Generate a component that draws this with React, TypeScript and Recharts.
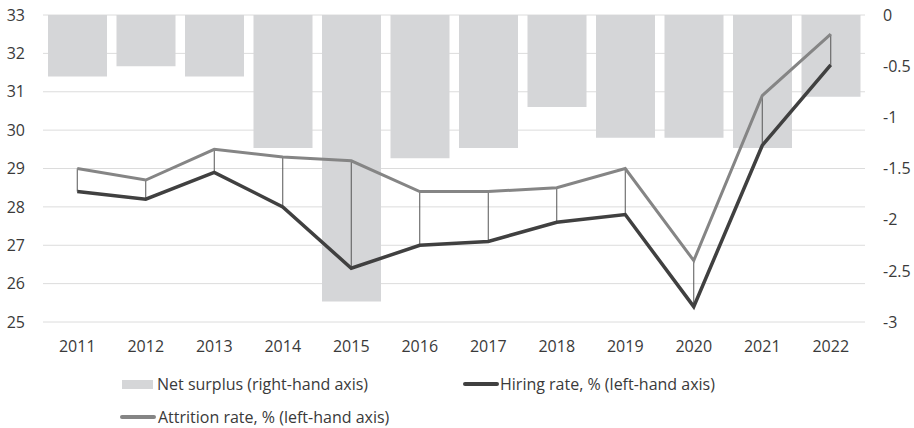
import React from 'react';
import {
  ComposedChart, Bar, Line, XAxis, YAxis, CartesianGrid, Legend, ErrorBar,
} from 'recharts';

const years = ['2011', '2012', '2013', '2014', '2015', '2016', '2017', '2018', '2019', '2020', '2021', '2022'];
const netSurplus = [-0.6, -0.5, -0.6, -1.3, -2.8, -1.4, -1.3, -0.9, -1.2, -1.2, -1.3, -0.8];
const hiringRate = [28.4, 28.2, 28.9, 28.0, 26.4, 27.0, 27.1, 27.6, 27.8, 25.4, 29.6, 31.7];
const attritionRate = [29.0, 28.7, 29.5, 29.3, 29.2, 28.4, 28.4, 28.5, 29.0, 26.6, 30.9, 32.5];
const leftTicks = [25, 26, 27, 28, 29, 30, 31, 32, 33];
const rightTicks = [0, -0.5, -1, -1.5, -2, -2.5, -3];

const data = years.map((y, i) => ({
  year: y,
  net: netSurplus[i],
  hiring: hiringRate[i],
  attrition: attritionRate[i],
  gap: [0, +(attritionRate[i] - hiringRate[i]).toFixed(2)],
}));

const FONT = '"Open Sans", sans-serif';
const TEXT = '#3a3a3a';
const BAR = '#d5d6d8';
const HIRE = '#404040';
const ATTR = '#858585';

const textStyle: React.CSSProperties = {
  position: 'absolute',
  fontFamily: FONT,
  fontSize: 16,
  lineHeight: '20px',
  color: TEXT,
  whiteSpace: 'nowrap',
};

const LegendContent = () => (
  <div style={{ position: 'relative', width: 914, height: 76 }}>
    <div style={{ position: 'absolute', left: 122, top: 28, width: 31, height: 9, background: BAR }} />
    <div style={{ ...textStyle, left: 157, top: 22 }}>Net surplus (right-hand axis)</div>
    <div style={{ position: 'absolute', left: 463, top: 30, width: 36, height: 4, borderRadius: 2, background: HIRE }} />
    <div style={{ ...textStyle, left: 500, top: 22 }}>Hiring rate, % (left-hand axis)</div>
    <div style={{ position: 'absolute', left: 120, top: 63, width: 36, height: 4, borderRadius: 2, background: ATTR }} />
    <div style={{ ...textStyle, left: 158, top: 55 }}>Attrition rate, % (left-hand axis)</div>
  </div>
);

export default function App() {
  return (
    <div style={{ position: 'absolute', left: 0, top: 0, width: 914, height: 428, background: '#fff' }}>
      <ComposedChart
        width={914}
        height={428}
        data={data}
        margin={{ top: 15, right: 0, bottom: 0, left: 0 }}
      >
        <CartesianGrid yAxisId="left" vertical={false} stroke="#dcdcdc" strokeWidth={1} />
        <XAxis
          dataKey="year"
          axisLine={false}
          tickLine={false}
          height={30}
          tickMargin={13}
          interval={0}
          tick={{ fill: TEXT, fontSize: 16, fontFamily: FONT }}
        />
        <YAxis
          yAxisId="left"
          orientation="left"
          domain={[25, 33]}
          ticks={leftTicks}
          width={43}
          axisLine={false}
          tickLine={false}
          tickMargin={12}
          interval={0}
          tick={{ fill: TEXT, fontSize: 16, fontFamily: FONT }}
        />
        <YAxis
          yAxisId="right"
          orientation="right"
          domain={[-3, 0]}
          ticks={rightTicks}
          width={49}
          axisLine={false}
          tickLine={false}
          tickMargin={12}
          interval={0}
          tick={{ fill: TEXT, fontSize: 16, fontFamily: FONT, textAnchor: 'start' }}
        />
        <Legend verticalAlign="bottom" content={<LegendContent />} />
        <Bar yAxisId="right" dataKey="net" fill={BAR} barSize={59} isAnimationActive={false} />
        <Line
          yAxisId="left"
          dataKey="hiring"
          stroke={HIRE}
          strokeWidth={3.5}
          dot={false}
          activeDot={false}
          isAnimationActive={false}
        >
          <ErrorBar dataKey="gap" direction="y" width={0} stroke="#555555" strokeWidth={1} isAnimationActive={false} />
        </Line>
        <Line
          yAxisId="left"
          dataKey="attrition"
          stroke={ATTR}
          strokeWidth={3}
          dot={false}
          activeDot={false}
          isAnimationActive={false}
        />
      </ComposedChart>
    </div>
  );
}
